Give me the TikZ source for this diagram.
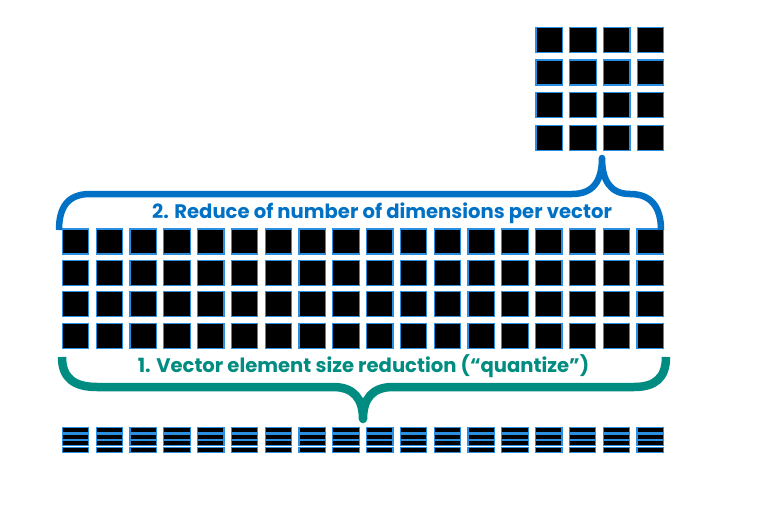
\documentclass[tikz,border=0pt]{standalone}
\usepackage{fontspec}
\newfontfamily\pop{Poppins}
\definecolor{braceblue}{HTML}{0071C5}
\definecolor{braceteal}{HTML}{008C80}
\definecolor{edgeblue}{HTML}{2A8FE0}
\tikzset{
  cell/.style={draw=edgeblue, fill=black, line width=1.2pt, inner sep=0pt, outer sep=0pt, minimum width=26.5pt, minimum height=25pt},
  bar/.style={draw=edgeblue, fill=black, line width=1.2pt, inner sep=0pt, outer sep=0pt, minimum width=26.5pt, minimum height=5.2pt},
  bluebrace/.style={draw=braceblue, line width=6.5pt},
  tealbrace/.style={draw=braceteal, line width=8.5pt},
  lbl/.style={font=\pop\bfseries\fontsize{19.6}{22}\selectfont, inner sep=0pt}
}
\begin{document}
\begin{tikzpicture}[x=1pt,y=-1pt]
\useasboundingbox (0,0) rectangle (764,506);
% top grid 4x4
\foreach \i in {0,...,3}{
  \foreach \j in {0,...,3}{
    \node[cell, anchor=north west] (t-\i-\j) at ({536+33.7*\j},{27.3+32.7*\i}) {};
  }
}
% main grid 4x18
\foreach \i in {0,...,3}{
  \foreach \j in {0,...,17}{
    \node[cell, anchor=north west] (m-\i-\j) at ({62.3+33.8*\j},{229+31.4*\i}) {};
  }
}
% bottom strips
\foreach \i in {0,...,3}{
  \foreach \j in {0,...,17}{
    \node[bar, anchor=north west] (b-\i-\j) at ({62.3+33.8*\j},{427.3+6.6*\i}) {};
  }
}
% blue brace
\coordinate (bl) at (59,230);
\coordinate (br) at (661,230);
\coordinate (bc) at (602,158);
\draw[bluebrace] (bl) .. controls (59,207) and (68,194) .. (90,194) -- (572,194)
  .. controls (594,194) and (602,180) .. (bc)
  .. controls (602,180) and (610,194) .. (630,194)
  .. controls (651,194) and (661,207) .. (br);
\fill[braceblue] (bc) circle (3.25pt);
% teal brace
\coordinate (gl) at (62,357);
\coordinate (gr) at (666,357);
\coordinate (gc) at (363,419);
\draw[tealbrace] (gl) .. controls (62,378) and (74,387) .. (97,387) -- (333,387)
  .. controls (354,387) and (363,399) .. (gc)
  .. controls (363,399) and (372,387) .. (393,387) -- (634,387)
  .. controls (655,387) and (666,378) .. (gr);
\fill[braceteal] (gc) circle (4.25pt);
% labels
\node[lbl, text=braceblue] (lab2) at (382,213.5) {2. Reduce of number of dimensions per vector};
\node[lbl, text=braceteal] (lab1) at (363.5,366.5) {1. Vector element size reduction (“quantize”)};
\end{tikzpicture}
\end{document}
